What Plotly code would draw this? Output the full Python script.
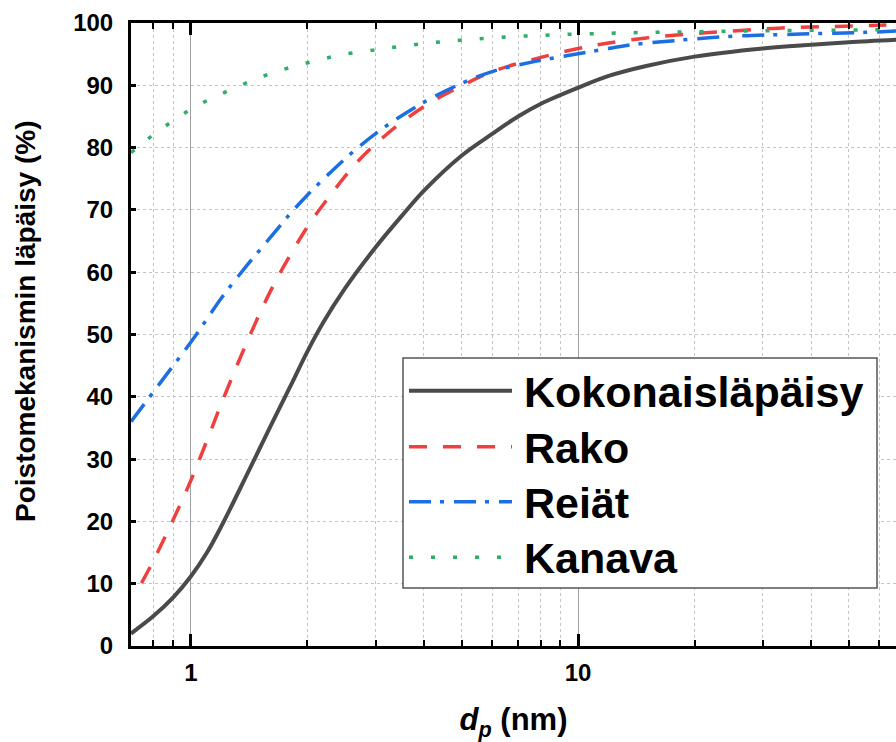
import numpy as np
import plotly.graph_objects as go

# Particle diameter (nm) and penetration (%) for each removal mechanism
kok_x = [0.70, 0.80, 0.90, 1.00, 1.10, 1.20, 1.40, 1.60, 1.80, 2.00, 2.20, 2.50,
         3.00, 3.50, 4.00, 5.00, 6.00, 7.00, 8.00, 10.0, 12.0, 15.0, 20.0,
         30.0, 40.0, 50.0, 66.5]
kok_y = [2.0, 4.8, 7.8, 11.2, 15.0, 19.3, 27.7, 35.1, 41.5, 47.3, 52.0, 57.4,
         64.0, 69.0, 73.1, 78.7, 82.2, 85.0, 87.0, 89.6, 91.5, 93.1, 94.6,
         95.9, 96.5, 96.9, 97.3]

rako_x = [0.745, 0.80, 0.90, 1.00, 1.10, 1.20, 1.40, 1.60, 1.80, 2.00, 2.30,
          2.70, 3.20, 4.00, 5.00, 6.00, 7.70, 10.0, 12.0, 15.0, 19.0, 23.5, 29.4,
          36.7, 45.9, 56.8, 66.5]
rako_y = [10.1, 13.7, 20.3, 26.6, 33.0, 39.0, 49.0, 56.8, 62.6, 67.3, 72.5,
          77.8, 82.1, 86.6, 89.9, 92.2, 94.2, 95.9, 96.8, 97.6, 98.2, 98.6, 99.0,
          99.3, 99.45, 99.6, 99.7]

reiat_x = [0.70, 0.80, 0.90, 1.00, 1.10, 1.20, 1.40, 1.60, 1.80, 2.00, 2.30,
           2.70, 3.20, 4.00, 5.00, 6.00, 7.70, 10.0, 12.0, 13.7, 18.0, 23.8,
           31.7, 41.8, 55.2, 66.5]
reiat_y = [36.0, 40.8, 45.0, 48.8, 52.5, 55.9, 61.2, 65.5, 69.3, 72.4, 76.1,
           80.0, 83.5, 87.3, 90.3, 92.2, 93.8, 95.05, 95.9, 96.5, 97.2, 97.8,
           98.1, 98.3, 98.5, 98.7]

kanava_x = [0.70, 0.731, 0.812, 0.91, 1.02, 1.149, 1.30, 1.47, 1.66, 1.89, 2.15,
            2.45, 3.17, 4.15, 5.36, 7.00, 9.10, 12.0, 15.5, 20.0, 26.0, 34.0,
            45.0, 58.0, 66.5]
kanava_y = [79.2, 80.1, 82.4, 84.5, 86.5, 88.1, 89.6, 91.0, 92.2, 93.2, 94.1,
            94.9, 95.9, 96.8, 97.4, 97.85, 98.15, 98.35, 98.5, 98.6, 98.7, 98.8,
            98.85, 98.9, 98.95]

series_names = ["Kokonaisläpäisy", "Rako", "Reiät", "Kanava"]
series_x = [kok_x, rako_x, reiat_x, kanava_x]
series_y = [kok_y, rako_y, reiat_y, kanava_y]

colors = ["#4a4a4a", "#ef4040", "#1c6fe0", "#2eae68"]
dashes = ["solid", "18px,16px", "22px,9px,4px,10px", "4px,18px"]
widths = [4, 3.5, 3.5, 3.5]

x_ticks = [1, 10]
x_ticktext = ["1", "10"]
x_minor = [0.8, 0.9, 2, 3, 4, 5, 6, 7, 8, 9, 20, 30, 40, 50, 60]
y_ticks = list(range(0, 101, 10))

FONT = "Liberation Sans, Arial, sans-serif"
W, H = 896, 742
ML, MR, MT, MB = 131, 0, 23, 96
X_MIN, X_MAX = 0.7, 66.3

fig = go.Figure()
for name, xs, ys, c, d, w in zip(series_names, series_x, series_y, colors, dashes, widths):
    fig.add_trace(go.Scatter(
        x=xs, y=ys, mode="lines", name=name, showlegend=False,
        line=dict(color=c, dash=d, width=w, shape="spline", smoothing=1.0),
    ))

# Pixel -> paper coordinate helpers for the legend box and y title
pw, ph = W - ML - MR, H - MT - MB


def px(xp):
    return (xp - ML) / pw


def py(yp):
    return 1 - (yp - MT) / ph


fig.add_shape(type="rect", xref="paper", yref="paper",
              x0=px(403), x1=px(877), y0=py(588), y1=py(358),
              line=dict(color="#555555", width=1.5), fillcolor="white", layer="above")
row_y = [390.7, 446.7, 501.7, 557.3]
for name, c, d, w, ry in zip(series_names, colors, dashes, widths, row_y):
    fig.add_shape(type="line", xref="paper", yref="paper",
                  x0=px(409), x1=px(512), y0=py(ry), y1=py(ry),
                  line=dict(color=c, dash=d, width=w), layer="above")
    fig.add_annotation(xref="paper", yref="paper", x=px(522), y=py(ry + 1),
                       text=f"<b>{name}</b>", showarrow=False,
                       xanchor="left", yanchor="middle",
                       font=dict(family=FONT, size=43, color="black"))

# Y axis title
fig.add_annotation(xref="paper", yref="paper", x=px(25), y=py(322),
                   text="<b>Poistomekanismin läpäisy (%)</b>", textangle=-90,
                   showarrow=False, xanchor="center", yanchor="middle",
                   font=dict(family=FONT, size=28, color="black"))

fig.update_layout(
    width=W, height=H,
    margin=dict(l=ML, r=MR, t=MT, b=MB, pad=0),
    paper_bgcolor="white", plot_bgcolor="white",
    font=dict(family=FONT, color="black"),
    xaxis=dict(
        type="log", range=[np.log10(X_MIN), np.log10(X_MAX)],
        tickmode="array", tickvals=x_ticks, ticktext=x_ticktext,
        ticks="inside", ticklen=12, tickwidth=2.5, tickcolor="black",
        showgrid=True, gridcolor="#a0a0a0", gridwidth=1.2,
        showline=True, linecolor="black", linewidth=3, mirror="ticks",
        tickfont=dict(family=FONT, size=24, color="black", weight="bold"),
        ticklabelstandoff=3,
        minor=dict(tickmode="array", tickvals=x_minor, ticks="inside", ticklen=6,
                   tickwidth=2, tickcolor="black", showgrid=True,
                   gridcolor="#c4c4c4", gridwidth=1, griddash="dot"),
        title=dict(text="<b><i>d</i><sub><i>p</i></sub> (nm)</b>",
                   font=dict(family=FONT, size=31, color="black"), standoff=24),
        zeroline=False,
    ),
    yaxis=dict(
        range=[0, 100], tickmode="array", tickvals=y_ticks,
        ticks="inside", ticklen=5, tickwidth=2.5, tickcolor="black",
        showgrid=True, gridcolor="#c4c4c4", gridwidth=1, griddash="dot",
        showline=True, linecolor="black", linewidth=3, mirror=False,
        tickfont=dict(family=FONT, size=24, color="black", weight="bold"),
        ticklabelstandoff=10,
        zeroline=False,
    ),
)

fig.write_html("out.html")
